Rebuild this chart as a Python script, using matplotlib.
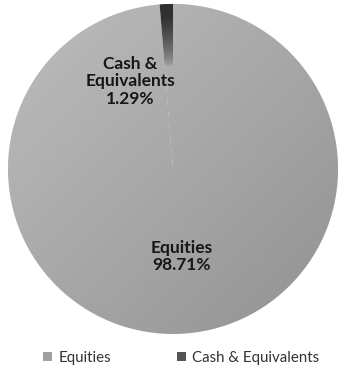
import numpy as np
import matplotlib.pyplot as plt
from matplotlib.patches import Patch

# asset allocation
labels = ['Equities', 'Cash & Equivalents']
shares = [98.71, 1.29]
slice_text = ['Equities\n98.71%', 'Cash &\nEquivalents\n1.29%']

plt.rcParams['font.family'] = ['Lato', 'DejaVu Sans']

fig = plt.figure(figsize=(3.42, 3.73), dpi=100)
ax = fig.add_axes([0.0234, 0.1046, 0.965, 0.885])

# equities first, so the small cash slice ends right at 12 o'clock
start = 90 + 360 * shares[1] / 100
wedges, _ = ax.pie(shares, startangle=start, counterclock=True, radius=1,
                   colors=['#a6a6a6', '#3a3a3a'],
                   wedgeprops=dict(edgecolor='white', linewidth=0.6))

# shaded fills clipped to each slice
n = 500
xs = np.linspace(-1, 1, n)
X, Y = np.meshgrid(xs, xs)
t = (X - Y) / 4 + 0.5
base = 0.74 - 0.17 * t
R = np.sqrt(X**2 + Y**2)
fade = np.clip((R - 0.62) / 0.3, 0, 1) ** 0.6
dark = base - (base - 0.19) * fade

for w, img in zip(wedges, [base, dark]):
    im = ax.imshow(img, cmap='gray', vmin=0, vmax=1, extent=(-1, 1, -1, 1),
                   origin='lower', interpolation='bilinear', zorder=1.5)
    im.set_clip_path(w)

ax.text(-0.26, 0.53, slice_text[1], ha='center', va='center',
        fontsize=12.5, fontweight='bold', color='#161616', linespacing=1.08, zorder=3)
ax.text(0.05, -0.53, slice_text[0], ha='center', va='center',
        fontsize=12.5, fontweight='bold', color='#161616', linespacing=1.08, zorder=3)

ax.set_xlim(-1, 1)
ax.set_ylim(-1, 1)
ax.set_aspect('equal')
ax.axis('off')

handles = [Patch(facecolor='#a0a0a0', edgecolor='none'),
           Patch(facecolor='#555555', edgecolor='none')]
fig.legend(handles, labels, loc='center', bbox_to_anchor=(0.53, 0.041), ncol=2,
           frameon=False, fontsize=10.8, handlelength=0.6, handleheight=0.6,
           handletextpad=0.4, columnspacing=4.4, labelcolor='#333333')

fig.savefig('out.png', dpi=100)
